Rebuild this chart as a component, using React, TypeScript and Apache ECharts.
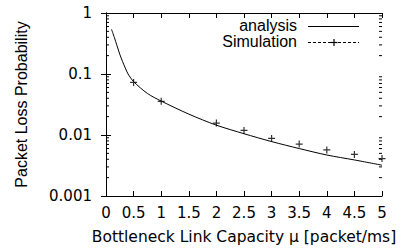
import React, { useEffect, useRef } from "react";
import * as echarts from "echarts";

const xTickValues = [0, 0.5, 1, 1.5, 2, 2.5, 3, 3.5, 4, 4.5, 5];
const yTickLabels = ["0.001", "0.01", "0.1", "1"];

const analysisX = [0.1, 0.15, 0.2, 0.25, 0.3, 0.35, 0.4, 0.5, 0.75, 1, 1.5, 2, 2.5, 3, 3.5, 4, 4.5, 5];
const analysisY = [0.54, 0.4, 0.29, 0.21, 0.16, 0.125, 0.1, 0.075, 0.048, 0.036, 0.022, 0.0145, 0.0105, 0.0078, 0.006, 0.0047, 0.0039, 0.0032];

const simX = [0.5, 1, 2, 2.5, 3, 3.5, 4, 4.5, 5];
const simY = [0.0727, 0.0356, 0.0157, 0.0119, 0.0088, 0.0071, 0.0057, 0.0048, 0.0041];

const minorDecades = [0.001, 0.01, 0.1];
const minorMultipliers = [2, 3, 4, 5, 6, 7, 8, 9];

const FONT = "'Liberation Sans', Arial, sans-serif";
const WIDE = "'DejaVu Sans', sans-serif";

export default function App() {
  const ref = useRef<HTMLDivElement>(null);
  useEffect(() => {
    if (!ref.current) return;
    const chart = echarts.init(ref.current, undefined, { renderer: "svg" });
    const minorVals: number[] = [];
    minorDecades.forEach((d) => minorMultipliers.forEach((m) => minorVals.push(m * d)));
    const axisCommon = {
      axisLine: { show: true, lineStyle: { color: "#000", width: 1 } },
      axisTick: { show: true, inside: true, length: 5, lineStyle: { color: "#000", width: 1 } },
      splitLine: { show: false },
    };
    chart.setOption({
      animation: false,
      grid: { left: 106, top: 13, right: 19, bottom: 54 },
      xAxis: [
        {
          type: "value",
          min: 0,
          max: 5,
          interval: 0.5,
          ...axisCommon,
          axisLabel: {
            color: "#000",
            fontFamily: WIDE,
            fontSize: 15,
            margin: 9,
            formatter: (v: number) => (xTickValues.includes(v) ? String(v) : ""),
          },
          name: "Bottleneck Link Capacity \u03bc [packet/ms]",
          nameLocation: "middle",
          nameGap: 33,
          nameTextStyle: { color: "#000", fontFamily: WIDE, fontSize: 15.5 },
        },
        {
          type: "value",
          position: "top",
          min: 0,
          max: 5,
          interval: 0.5,
          ...axisCommon,
          axisLabel: { show: false },
        },
      ],
      yAxis: [
        {
          type: "log",
          logBase: 10,
          min: 0.001,
          max: 1,
          ...axisCommon,
          axisLabel: {
            color: "#000",
            fontFamily: WIDE,
            fontSize: 15,
            margin: 14,
            formatter: (v: number) => {
              const e = Math.round(Math.log10(v));
              return yTickLabels[e + 3] ?? "";
            },
          },
          name: "Packet Loss Probability",
          nameLocation: "middle",
          nameGap: 77,
          nameTextStyle: { color: "#000", fontFamily: FONT, fontSize: 16 },
        },
        {
          type: "log",
          logBase: 10,
          position: "right",
          min: 0.001,
          max: 1,
          ...axisCommon,
          axisLabel: { show: false },
        },
      ],
      series: [
        {
          type: "custom",
          xAxisIndex: 0,
          yAxisIndex: 0,
          silent: true,
          data: minorVals.map((v) => [0, v]),
          renderItem: (params: any, api: any) => {
            const val = api.value(1);
            const l = api.coord([0, val]);
            const r = api.coord([5, val]);
            return {
              type: "group",
              children: [
                { type: "line", shape: { x1: l[0], y1: l[1], x2: l[0] + 3, y2: l[1] }, style: { stroke: "#000", lineWidth: 1 } },
                { type: "line", shape: { x1: r[0] - 3, y1: r[1], x2: r[0], y2: r[1] }, style: { stroke: "#000", lineWidth: 1 } },
              ],
            };
          },
        },
        {
          name: "analysis",
          type: "line",
          smooth: 0.3,
          symbol: "none",
          lineStyle: { color: "#000", width: 1 },
          data: analysisX.map((x, i) => [x, analysisY[i]]),
        },
        {
          name: "Simulation",
          type: "scatter",
          symbol: "path://M5,0L5,10M0,5L10,5",
          symbolSize: 7,
          itemStyle: { color: "none", borderColor: "#000", borderWidth: 1.2 },
          data: simX.map((x, i) => [x, simY[i]]),
        },
      ],
      graphic: [
        { type: "text", x: 297, y: 25, style: { text: "analysis", font: `16px ${FONT}`, fill: "#000", textAlign: "right", textVerticalAlign: "middle" } },
        { type: "line", shape: { x1: 308, y1: 26.5, x2: 359, y2: 26.5 }, style: { stroke: "#000", lineWidth: 1 } },
        { type: "text", x: 297, y: 41, style: { text: "Simulation", font: `16px ${FONT}`, fill: "#000", textAlign: "right", textVerticalAlign: "middle" } },
        { type: "line", shape: { x1: 308, y1: 42.5, x2: 359, y2: 42.5 }, style: { stroke: "#000", lineWidth: 1, lineDash: [3, 2] } },
        { type: "line", shape: { x1: 334, y1: 39, x2: 334, y2: 46 }, style: { stroke: "#000", lineWidth: 1.2 } },
        { type: "line", shape: { x1: 330.5, y1: 42.5, x2: 337.5, y2: 42.5 }, style: { stroke: "#000", lineWidth: 1.2 } },
      ],
    });
    return () => chart.dispose();
  }, []);
  return (
    <div style={{ position: "absolute", left: 0, top: 0, width: 401, height: 250, overflow: "hidden" }}>
      <div ref={ref} style={{ width: 401, height: 250 }} />
    </div>
  );
}
